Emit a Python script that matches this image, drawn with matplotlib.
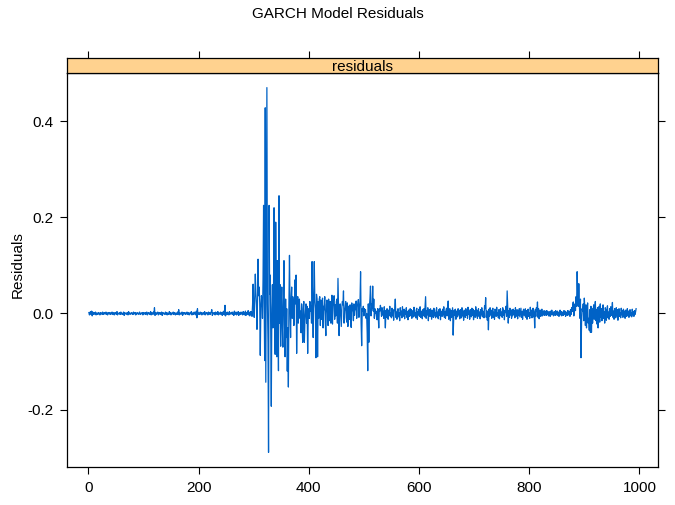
import numpy as np
import matplotlib
matplotlib.use("Agg")
import matplotlib.pyplot as plt

plt.rcParams["font.family"] = ["Liberation Sans", "DejaVu Sans"]
plt.rcParams["axes.unicode_minus"] = False

# GARCH residuals, in thousandths, split by volatility phase (t = 1..994)
calm = [
    2, -3, 1, 4, -2, 5, -5, 3, 0, -2, 2, -1, 3, -3, 1, 0, -2, 2, -1, 1,
    -3, 2, 0, 1, -2, 3, -1, -2, 2, 0, -1, 3, -2, 1, -3, 2, 0, -1, 2, -2,
    1, -1, 3, -2, 0, 2, -3, 1, 2, -1, -2, 4, -3, 1, 0, -1, 2, -2, 3, -1,
    0, -2, 1, 3, -4, 2, -1, 0, 1, -2, 2, -3, 4, -1, 1, -2, 0, 2, -1, 1,
    -2, 3, -1, 0, 2, -3, 1, -1, 2, 0, -2, 1, 3, -2, 0, 1, -1, 2, -3, 2,
    0, -1, 2, -2, 1, 3, -3, 0, 2, -1, 1, -2, 4, -3, 2, 0, -2, 3, -1, 12,
    -4, 2, -2, 1, 0, 3, -3, 1, -1, 2, -2, 0, 3, -4, 2, -1, 1, 0, -2, 3,
    -1, 2, -3, 1, 0, -2, 4, -1, 2, -3, 1, 0, -1, 3, -2, 1, 2, -3, 0, 1,
    -2, 3, -1, 8, -3, 2, 0, -2, 1, 3, -4, 2, -1, 0, 2, -2, 1, -1, 3, -2,
    0, 2, -3, 1, -1, 2, 4, -3, 1, 0, -2, 3, -1, 2, -3, 5, -9, 10, -2, 1,
    0, -2, 3, -1, 2, -3, 1, 0, 2, -2, 4, -3, 1, -1, 2, 0, -3, 3, -1, 2,
    -2, 1, 3, 8, -4, 2, -1, 0, 2, -3, 3, -1, 1, -2, 4, -3, 2, 0, -2, 3,
    -1, 2, -4, 3, -2, 5, -3, 17, -5, 2, -1, 3, -2, 1, -3, 4, -2, 0, 2, -1,
    3, -2, 1, -4, 5, -2, 0, 3, -3, 2, -1, 4, -4, 2, 0, -2, 3, -1, 2, -3,
    4, -2, 1, -3, 5, -4, 2, 0, -2, 6, -3, 2, -5, 4, -1,
]
burst = [
    4, -6, 18, 61, 12, -8, 34, 82, 42, 18,
    -33, 30, 113, 37, 55, 22, -87, 12, 37, 28,
    -10, 70, 225, 30, -98, 428, -143, 180, 470, 20,
    -60, -289, 225, 40, 80, -40, -193, 10, 60, -30,
    40, 220, -10, -85, 190, 30, -90, 110, 20, -119,
    245, -20, 60, -68, 25, 55, -30, -70, 40, 110,
    -20, -90, 30, -50, 10, -120, -30, -153, 20, 121,
    10, -50, 30, 55, -10, 35, 20, -25, 15, 70,
]
decay = [
    20, 80, -83, 10, 35, -20, 15, 30, -10, 5,
    -40, 20, -25, -60, 10, 25, -60, -15, 5, 20,
    -20, 15, -83, -10, 10, -10, 25, 5, 16, -20,
    108, 20, -50, 40, 108, 25, 10, -92, 40, 30,
    -90, 25, -10, 30, 35, -25, 28, -12, 20, 32,
    -30, 15, 8, 35, -18, -46, 18, 28, 6, -25,
    30, 12, -15, 25, -20, 5, 38, -22, 15, 30,
    37, -12, 18, -5, 25, 30, -20, 73, 10, -46,
    8, 20, -6, -27, 12, 25, 18, 47, -20, 5,
    12, 25, -8, -18, 22, -27, 15, 8, -12, 18,
    -20, -29, 22, 6, 15, -15, 20, -4, 14, 8,
    26, -10, 15, 20, 29, -8, 12, 25, 87, -20,
    -67, 10, 5, 15, -5, 10, 5, 8, -10, 0,
    -40, -119, 20, -60, 15, 30, 57, -5, 20, 10,
    57, 5, 30, -10, 10, 0, 5, -8, -13, 10,
    -5, -30, 10, 5, 17,
]
tail = [
    8, -6, 12, -3, 5, -10, 14, -2, -30, 6, -8, 10, 3, -12, 7, -4, 15, -6, 2, -9,
    11, -5, 8, -14, 4, 9, 30, -8, 3, -12, 6, 10, -7, 2, -15, 12, -3, 5, -9, 14,
    -6, 3, 9, -11, 5, -2, 12, -8, 4, -13, 7, 2, -6, 10, -4, 8, -10, 3, 6, -7,
    13, -5, 2, -9, 7, 11, -12, 4, -3, 9, -6, 14, -8, 2, 5, -11, 8, -4, 10, -7,
    16, 35, -10, 6, -3, 12, -15, 4, 8, -6, 10, -2, -12, 7, 3, -8, 11, -5, 2, -9,
    6, 12, -7, 3, -11, 8, -4, 10, -13, 5, 2, -6, 9, -3, 14, -8, 4, -10, 7, 11,
    -5, 8, 26, -12, 4, 10, -15, 6, -8, 3, 12, -45, -10, 7, -4, 9, -12, 5, 2, -7,
    10, -3, 6, -11, 8, 2, -9, 12, -5, 4, -14, 7, 3, -8, 10, -4, 6, -10, 13, -2,
    5, -12, 8, 3, -7, 11, -4, 9, -13, 6, 2, -8, 14, -5, 7, -10, 4, 10, -6, 3,
    -11, 8, -3, 12, -7, 5, 2, -9, 16, 10, 33, -8, 6, -14, 4, -34, 9, -6, 12, -3,
    7, -10, 4, 11, -8, 3, -12, 9, 5, -6, 13, -4, 2, -9, 8, -11, 6, 10, -5, 3,
    -8, 12, -4, 7, -13, 5, 2, 15, -6, 47, 10, -20, 6, -8, 11, -3, 4, -10, 8, -5,
    9, -2, 6, -9, 12, -6, 3, 8, -11, 5, -4, 10, -7, 2, 11, -8, 4, -12, 6, 9,
    -5, 3, 10, -8, 6, -12, 4, 9, -6, 2, -10, 13, -4, 7, -9, 5, 11, -7, 3, -30,
    8, -6, 12, 4, 24, -8, 10, -11, 5, 7, -6, 3, 9, -5, 4, -3, 6, -4, 2, 5,
    -4, 6, -2, 3, -5, 4, 2, -6, 5, -3, 7, -2, 1, -5, 4, 3, -4, 6, -3, 2,
    5, -4, 3, -6, 2, 7, -3, 4, -5, 3, 1, -4, 6, -2, 5, -6, 3, 2, -4, 6,
    -3, 5, 2, -6, 8, -2, 12, 4, 18, 24, -5, 10, 20, 6, 35, 15, 87, 40, 15, 62,
    20, -10, 30, -92, -20, 10, 5, 20, -15, 32, 10, -25, 18, -30, 5, 22, -20, -10, -35, 8,
    -39, 15, -39, 10, -20, 5, 18, -12, 10, 25, -15, 8, -22, 12, -30, 5, 15, -18, 20, -8,
    10, -15, 6, 18, -10, 4, -20, 12, 8, -14, 5, 16, -9, 3, -12, 10, -6, 14, -4, 7,
    23, -8, 5, -12, 10, 3, -9, 12, -5, 8, -14, 4, 10, -6, 2, -9, 11, -3, 6, -8,
    9, -4, 5, -10, 7, 2, -6, 10, -3, 5, -8, 4, 8, -5, 2, -7, 9, -3, 4, -6,
    6, -2, 3, 10,
]

x_ticks = [0, 200, 400, 600, 800, 1000]
y_ticks = [-0.2, 0.0, 0.2, 0.4]

resid = np.array(calm + burst + decay + tail) / 1000.0
t = np.arange(1, len(resid) + 1)

BLUE = "#0062c6"
STRIP_FILL = "#ffd28f"
W, H = 675, 505
L, R, TOP, BOT, STRIP_TOP = 67, 658, 73, 467, 58

# lattice-style padding: 4% of data range on each side
pad_x = 0.04 * (t.max() - t.min())
pad_y = 0.04 * (resid.max() - resid.min())
xlim = (t.min() - pad_x, t.max() + pad_x)
ylim = (resid.min() - pad_y, resid.max() + pad_y)

fig = plt.figure(figsize=(W / 100, H / 100), dpi=100)

ax = fig.add_axes([L / W, 1 - BOT / H, (R - L) / W, (BOT - TOP) / H])
ax.plot(t, resid, color=BLUE, lw=0.9)
ax.set_xlim(xlim)
ax.set_ylim(ylim)
ax.set_xticks(x_ticks)
ax.set_yticks(y_ticks)
ax.set_yticklabels([f"{v:.1f}" for v in y_ticks])
ax.tick_params(direction="out", length=5, width=0.8, labelsize=11,
               top=False, right=True, pad=5)
for sp in ax.spines.values():
    sp.set_linewidth(0.9)

# strip with panel name, ticks mirrored on top
strip = fig.add_axes([L / W, 1 - TOP / H, (R - L) / W, (TOP - STRIP_TOP) / H])
strip.set_facecolor(STRIP_FILL)
strip.set_xlim(xlim)
strip.set_xticks(x_ticks)
strip.set_yticks([])
strip.tick_params(axis="x", direction="out", length=5, width=0.8,
                  bottom=False, top=True, labelbottom=False, labeltop=False)
for sp in strip.spines.values():
    sp.set_linewidth(0.9)
strip.text(0.5, 0.42, "residuals", transform=strip.transAxes,
           ha="center", va="center", fontsize=11)

fig.text(0.5, 1 - 14 / H, "GARCH Model Residuals", ha="center", va="center",
         fontsize=11)
fig.text(18 / W, 1 - 265 / H, "Residuals", rotation=90, ha="center",
         va="center", fontsize=11)

fig.savefig("out.png", dpi=100)
